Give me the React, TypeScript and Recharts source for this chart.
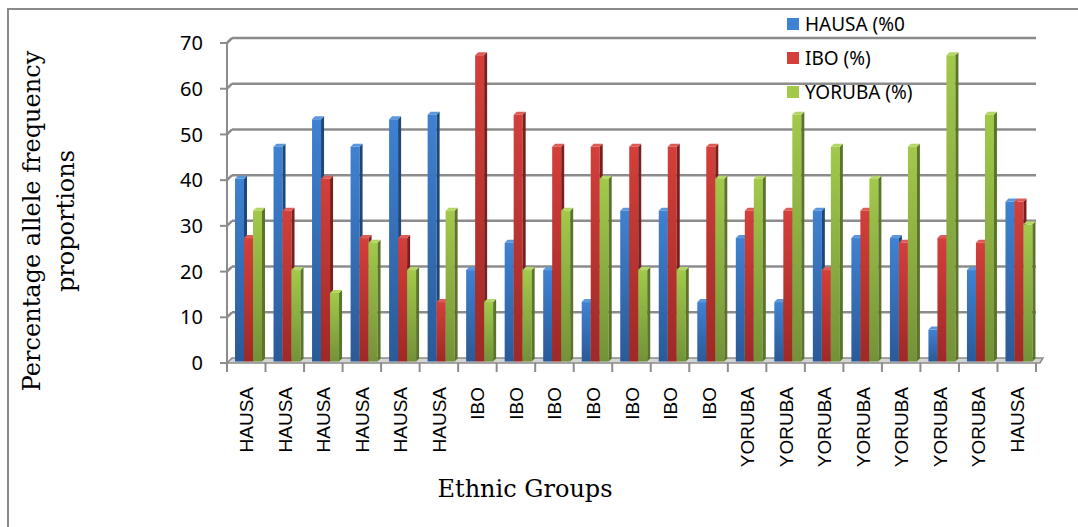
import React from 'react';
import { BarChart, Bar, XAxis, YAxis, CartesianGrid, Legend } from 'recharts';

// Sample groups along the x axis
const categories = [
  'HAUSA', 'HAUSA', 'HAUSA', 'HAUSA', 'HAUSA', 'HAUSA',
  'IBO', 'IBO', 'IBO', 'IBO', 'IBO', 'IBO', 'IBO',
  'YORUBA', 'YORUBA', 'YORUBA', 'YORUBA', 'YORUBA', 'YORUBA', 'YORUBA',
  'HAUSA',
];

// Allele frequency proportions (%) for each ethnic group series
const hausaValues = [40, 47, 53, 47, 53, 54, 20, 26, 20, 13, 33, 33, 13, 27, 13, 33, 27, 27, 7, 20, 35];
const iboValues = [27, 33, 40, 27, 27, 13, 67, 54, 47, 47, 47, 47, 47, 33, 33, 20, 33, 26, 27, 26, 35];
const yorubaValues = [33, 20, 15, 26, 20, 33, 13, 20, 33, 40, 20, 20, 40, 40, 54, 47, 40, 47, 67, 54, 30];

const seriesNames = ['HAUSA (%0', 'IBO (%)', 'YORUBA (%)'];
const yTicks = [0, 10, 20, 30, 40, 50, 60, 70];

const data = categories.map((group, i) => ({
  id: i,
  group,
  hausa: hausaValues[i],
  ibo: iboValues[i],
  yoruba: yorubaValues[i],
}));

// Layout
const CHART_W = 1078;
const CHART_H = 527;
const PLOT_LEFT = 227;
const PLOT_RIGHT = 1036;
const PLOT_TOP = 43;
const PLOT_BOTTOM = 363;
const BAND = (PLOT_RIGHT - PLOT_LEFT) / categories.length;
const DEPTH = 3; // bar side/top depth
const WALL = 5; // back wall offset
const GRID = '#8c8c8c';

const palette = {
  hausa: { light: '#3f82d2', dark: '#2a5a98', side: '#1e4679', top: '#5b97da' },
  ibo: { light: '#d43f3a', dark: '#9e2926', side: '#7a1f1d', top: '#dd5c57' },
  yoruba: { light: '#a2c94a', dark: '#739238', side: '#5a7429', top: '#b4d666' },
};

type Key = keyof typeof palette;

const makeShape = (key: Key) => (props: any) => {
  const { x, y, width, height } = props;
  if (height == null || width == null) return <g />;
  const c = palette[key];
  const fx = x + 2;
  const fy = y - 1.5;
  const h = height;
  const w = width;
  return (
    <g>
      <rect x={fx} y={fy} width={w} height={h} fill={`url(#grad-${key})`} />
      <polygon
        points={`${fx + w},${fy} ${fx + w + DEPTH},${fy - DEPTH} ${fx + w + DEPTH},${fy + h - DEPTH} ${fx + w},${fy + h}`}
        fill={c.side}
      />
      <polygon
        points={`${fx},${fy} ${fx + DEPTH},${fy - DEPTH} ${fx + w + DEPTH},${fy - DEPTH} ${fx + w},${fy}`}
        fill={c.top}
      />
    </g>
  );
};

const gridLine = (props: any) => {
  const { x1, y1, x2 } = props;
  if (Math.abs(y1 - PLOT_BOTTOM) < 1) {
    // floor slab
    return (
      <g key={props.key}>
        <polygon
          points={`${x1},${y1} ${x2 + 4},${y1} ${x2 + WALL + 2},${y1 - WALL} ${x1 + WALL},${y1 - WALL}`}
          fill="#d4d4d4"
          stroke={GRID}
          strokeWidth={1.5}
        />
      </g>
    );
  }
  return (
    <g key={props.key}>
      <line x1={x1} y1={y1} x2={x1 + WALL} y2={y1 - WALL} stroke={GRID} strokeWidth={2.5} />
      <line x1={x1 + WALL} y1={y1 - WALL} x2={x2} y2={y1 - WALL} stroke={GRID} strokeWidth={2.5} />
    </g>
  );
};

const CategoryTick = (props: any) => {
  const { x, payload, index } = props;
  const left = x - BAND / 2;
  const right = x + BAND / 2;
  const last = index === categories.length - 1;
  return (
    <g>
      <line x1={left} y1={PLOT_BOTTOM} x2={left} y2={PLOT_BOTTOM + 9} stroke={GRID} strokeWidth={2} />
      {last && (
        <line x1={right} y1={PLOT_BOTTOM} x2={right} y2={PLOT_BOTTOM + 9} stroke={GRID} strokeWidth={2} />
      )}
      <text
        x={x + 7}
        y={PLOT_BOTTOM + 24}
        transform={`rotate(-90, ${x + 7}, ${PLOT_BOTTOM + 24})`}
        textAnchor="end"
        fontFamily="'Liberation Sans', Arial, sans-serif"
        fontSize={19}
        fill="#000"
      >
        {payload.value}
      </text>
    </g>
  );
};

const YTitle = () => {
  const cy = 221;
  return (
    <g>
      <text
        x={40}
        y={cy}
        transform={`rotate(-90, 40, ${cy})`}
        textAnchor="middle"
        fontFamily="'DejaVu Serif', serif"
        fontSize={24}
        fill="#000"
      >
        Percentage allele frequency
      </text>
      <text
        x={74}
        y={cy}
        transform={`rotate(-90, 74, ${cy})`}
        textAnchor="middle"
        fontFamily="'DejaVu Serif', serif"
        fontSize={24}
        fill="#000"
      >
        proportions
      </text>
    </g>
  );
};

const XTitle = () => (
  <text
    x={525}
    y={497}
    textAnchor="middle"
    fontFamily="'DejaVu Serif', serif"
    fontSize={24}
    fill="#000"
  >
    Ethnic Groups
  </text>
);

const legendColors = [palette.hausa.light, palette.ibo.light, palette.yoruba.light];

const LegendContent = () => (
  <div style={{ fontFamily: "'Noto Sans', sans-serif", fontSize: 19, color: '#000' }}>
    {seriesNames.map((name, i) => (
      <div key={name} style={{ display: 'flex', alignItems: 'center', height: 34 }}>
        <span
          style={{
            display: 'inline-block',
            width: 12,
            height: 12,
            background: legendColors[i],
            marginRight: 6,
          }}
        />
        <span>{name}</span>
      </div>
    ))}
  </div>
);

export default function App() {
  return (
    <div style={{ position: 'absolute', left: 0, top: 0, width: CHART_W, height: CHART_H, background: '#fff', overflow: 'hidden' }}>
      <div
        style={{
          position: 'absolute',
          left: 7,
          top: 8,
          width: CHART_W + 20,
          height: CHART_H + 20,
          borderLeft: '2px solid #8a8a8a',
          borderTop: '2px solid #8a8a8a',
          boxSizing: 'border-box',
        }}
      />
      <div style={{ position: 'absolute', left: 0, top: 0 }}>
        <BarChart
          width={CHART_W}
          height={CHART_H}
          data={data}
          margin={{ top: PLOT_TOP, right: CHART_W - PLOT_RIGHT, bottom: 0, left: 0 }}
          barGap={0}
          barSize={9}
        >
          <defs>
            {(Object.keys(palette) as Key[]).map((k) => (
              <linearGradient key={k} id={`grad-${k}`} x1="0" y1="0" x2="0" y2="1">
                <stop offset="0%" stopColor={palette[k].light} />
                <stop offset="100%" stopColor={palette[k].dark} />
              </linearGradient>
            ))}
          </defs>
          <CartesianGrid vertical={false} horizontal={gridLine} />
          <XAxis
            dataKey="id"
            height={CHART_H - PLOT_BOTTOM}
            interval={0}
            axisLine={false}
            tickLine={false}
            tick={(p: any) => <CategoryTick {...p} payload={{ value: categories[p.payload.value] }} />}
            label={{ content: () => <XTitle /> }}
          />
          <YAxis
            width={PLOT_LEFT}
            domain={[0, 70]}
            ticks={yTicks}
            interval={0}
            tickSize={7}
            tickMargin={17}
            axisLine={{ stroke: GRID, strokeWidth: 2 }}
            tickLine={{ stroke: GRID, strokeWidth: 2 }}
            tick={{ fontFamily: "'Noto Sans', sans-serif", fontSize: 20, fill: '#000' }}
            label={{ content: () => <YTitle /> }}
          />
          <Legend
            layout="vertical"
            align="center"
            verticalAlign="middle"
            wrapperStyle={{ left: 787, top: 7, width: 220 }}
            content={() => <LegendContent />}
          />
          <Bar dataKey="hausa" name={seriesNames[0]} fill={palette.hausa.light} shape={makeShape('hausa')} isAnimationActive={false} />
          <Bar dataKey="ibo" name={seriesNames[1]} fill={palette.ibo.light} shape={makeShape('ibo')} isAnimationActive={false} />
          <Bar dataKey="yoruba" name={seriesNames[2]} fill={palette.yoruba.light} shape={makeShape('yoruba')} isAnimationActive={false} />
        </BarChart>
      </div>
    </div>
  );
}
